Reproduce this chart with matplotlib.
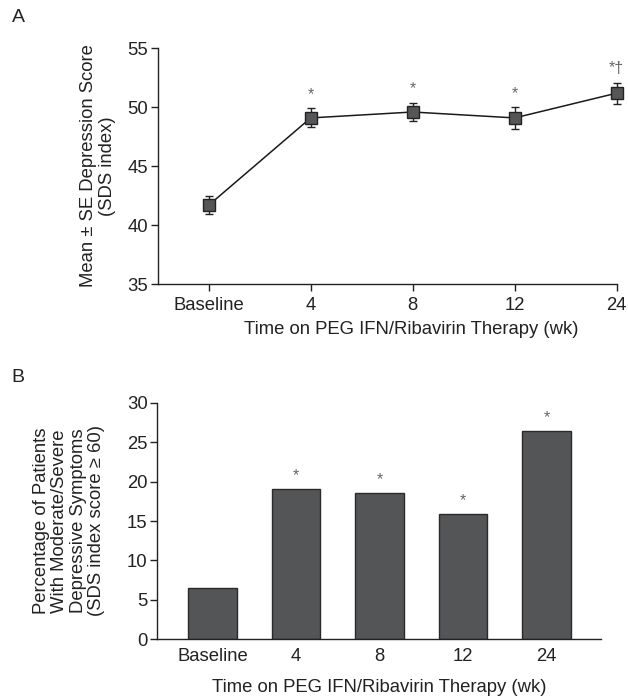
import matplotlib
matplotlib.use("Agg")
import matplotlib.pyplot as plt
import numpy as np

plt.rcParams['font.family'] = ['Liberation Sans', 'DejaVu Sans']

categories = ["Baseline", "4", "8", "12", "24"]
mean_scores = [41.7, 49.1, 49.6, 49.1, 51.2]
se_scores = [0.75, 0.8, 0.8, 0.9, 0.9]
score_marks = ["", "*", "*", "*", "*†"]
pct_moderate_severe = [6.55, 19.1, 18.5, 15.9, 26.4]
pct_marks = ["", "*", "*", "*", "*"]
xlabel = "Time on PEG IFN/Ribavirin Therapy (wk)"
ylabel_a = "Mean ± SE Depression Score\n(SDS index)"
ylabel_b = "Percentage of Patients\nWith Moderate/Severe\nDepressive Symptoms\n(SDS index score ≥ 60)"

FS = 13.3
TXT = "#222222"
fig = plt.figure(figsize=(6.28, 7.0), dpi=100)

# Panel A
axA = fig.add_axes([0.2511, 0.5939, 0.982 - 0.2511, 0.931 - 0.5939])
x = np.arange(len(categories))
lines = axA.errorbar(x, mean_scores, yerr=se_scores, fmt='s-', color='#1a1a1a', lw=1.1,
                     ms=8, mfc='#555658', mec='#222222', mew=1.0,
                     ecolor='#222222', elinewidth=1.0, capsize=3.2, capthick=1.0, zorder=3)
for art in lines.lines[0:1]:
    art.set_clip_on(False)
for grp in lines.lines[1:]:
    for art in grp:
        art.set_clip_on(False)
for xi, m, e, s in zip(x, mean_scores, se_scores, score_marks):
    if s:
        axA.text(xi, m + e + 1.15, s, ha='center', va='center', fontsize=11.5, color='#666666')
axA.set_xlim(-0.5, 4)
axA.set_ylim(35, 55)
axA.set_yticks([35, 40, 45, 50, 55])
axA.set_xticks(x)
axA.set_xticklabels(categories)
for sp in ['top', 'right']:
    axA.spines[sp].set_visible(False)
for sp in ['left', 'bottom']:
    axA.spines[sp].set_linewidth(1.0)
    axA.spines[sp].set_color('#222222')
axA.tick_params(axis='both', direction='out', length=5, width=1.0, color='#222222',
                labelsize=FS, labelcolor=TXT)
axA.tick_params(axis='x', pad=4)
axA.tick_params(axis='y', pad=2)

fig.text(98 / 628, 1 - 166 / 700, ylabel_a, rotation=90, ha='center', va='center',
         fontsize=FS, color=TXT, multialignment='center', linespacing=1.1)
fig.text(411 / 628, 1 - 329 / 700, xlabel, ha='center', va='center', fontsize=FS, color=TXT)
fig.text(18 / 628, 1 - 18 / 700, "A", ha='center', va='center', fontsize=14, color=TXT)

# Panel B
axB = fig.add_axes([0.2505, 0.0867, 0.957 - 0.2505, 0.4247 - 0.0867])
axB.bar(x, pct_moderate_severe, width=0.58, color='#545557', edgecolor='#2a2a2a', linewidth=1.0, zorder=2)
for xi, v, s in zip(x, pct_moderate_severe, pct_marks):
    if s:
        axB.text(xi, v + 1.7, s, ha='center', va='center', fontsize=11.5, color='#666666')
axB.set_xlim(-0.66, 4.65)
axB.set_ylim(0, 30)
axB.set_yticks([0, 5, 10, 15, 20, 25, 30])
axB.set_xticks(x)
axB.set_xticklabels(categories)
for sp in ['top', 'right']:
    axB.spines[sp].set_visible(False)
for sp in ['left', 'bottom']:
    axB.spines[sp].set_linewidth(1.0)
    axB.spines[sp].set_color('#222222')
axB.tick_params(axis='y', direction='out', length=5, width=1.0, color='#222222',
                labelsize=FS, labelcolor=TXT, pad=2)
axB.tick_params(axis='x', length=0, labelsize=FS, labelcolor=TXT, pad=6)

fig.text(69 / 628, 1 - 521 / 700, ylabel_b, rotation=90, ha='center', va='center',
         fontsize=FS, color=TXT, multialignment='center', linespacing=1.1)
fig.text(379 / 628, 1 - 688 / 700, xlabel, ha='center', va='center', fontsize=FS, color=TXT)
fig.text(18 / 628, 1 - 377 / 700, "B", ha='center', va='center', fontsize=14, color=TXT)

fig.savefig("out.png", dpi=100)
